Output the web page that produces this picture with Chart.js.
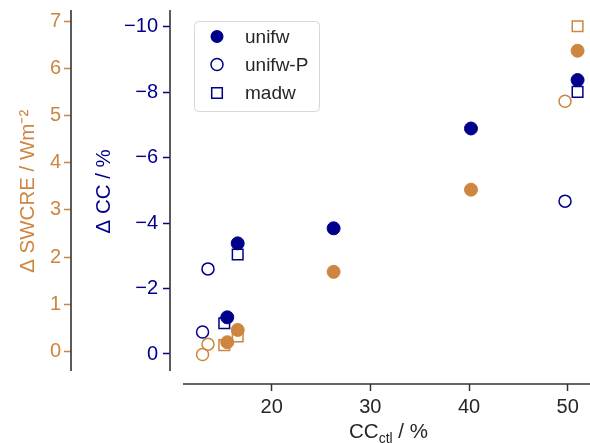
<!DOCTYPE html>
<html>
<head>
<meta charset="utf-8">
<script src="https://cdn.jsdelivr.net/npm/chart.js@4.4.1/dist/chart.umd.min.js"></script>
<style>
    body { margin: 0; background: #fff; }
    #wrap { width: 590px; height: 443px; position: relative; }
</style>
</head>
<body>
<div id="wrap"><canvas id="chart"></canvas></div>
<script>
// series values
const unifwX = [15.5, 16.56, 26.28, 40.2, 51.0];
const unifwCC = [-1.12, -3.38, -3.84, -6.89, -8.37];
const unifwSW = [0.2, 0.46, 1.69, 3.43, 6.37];

const unifwPX = [13.0, 13.55, 49.73];
const unifwPCC = [-0.67, -2.6, -4.67];
const unifwPSW = [-0.06, 0.16, 5.30];

const madwX = [15.2, 16.56, 51.0];
const madwCC = [-0.94, -3.04, -8.01];
const madwSW = [0.14, 0.32, 6.89];

const legendLabels = ['unifw', 'unifw-P', 'madw'];
const xTicks = [20, 30, 40, 50];
const ccTicks = [-10, -8, -6, -4, -2, 0];
const swTicks = [0, 1, 2, 3, 4, 5, 6, 7];

const NAVY = '#00008B';
const ORANGE = '#CD853F';
const SPINE = '#333333';
const TEXT = '#262626';
const FONT = '"Liberation Sans", Arial, sans-serif';

const pts = (xs, ys) => xs.map((x, i) => ({ x: x, y: ys[i] }));

function marker(style, color, filled, order, axis, xs, ys) {
    return {
        data: pts(xs, ys),
        yAxisID: axis,
        order: order,
        pointStyle: style,
        pointRadius: style === 'rect' ? 7.5 : (filled ? 6.5 : 6),
        borderWidth: filled ? 1 : 1.5,
        borderColor: color,
        backgroundColor: filled ? color : 'rgba(0,0,0,0)',
        clip: false
    };
}

const datasets = [
    marker('circle', ORANGE, true, 0, 'ySW', unifwX, unifwSW),
    marker('circle', NAVY, true, 1, 'yCC', unifwX, unifwCC),
    marker('circle', ORANGE, false, 2, 'ySW', unifwPX, unifwPSW),
    marker('circle', NAVY, false, 3, 'yCC', unifwPX, unifwPCC),
    marker('rect', ORANGE, false, 4, 'ySW', madwX, madwSW),
    marker('rect', NAVY, false, 5, 'yCC', madwX, madwCC)
];

const minus = v => String(v).replace('-', '\u2212');

// no extra room for edge labels, the ranges already hold it
function fixBox(s, size) {
    if (s.isHorizontal()) s.height = size; else s.width = size;
    s.paddingTop = 0;
    s.paddingBottom = 0;
    s.paddingLeft = 0;
    s.paddingRight = 0;
}

// detached spines like the matplotlib original
const spines = {
    id: 'spines',
    afterDraw(chart) {
        const { ctx, chartArea } = chart;
        const gap = 13;
        ctx.save();
        ctx.strokeStyle = SPINE;
        ctx.lineWidth = 1.6;
        ctx.beginPath();
        ctx.moveTo(chartArea.left + gap, chartArea.bottom);
        ctx.lineTo(chartArea.right, chartArea.bottom);
        ctx.moveTo(chartArea.left, chartArea.top);
        ctx.lineTo(chartArea.left, chartArea.bottom - gap);
        const sw = chart.scales.ySW.right;
        ctx.moveTo(sw, chartArea.top);
        ctx.lineTo(sw, chartArea.bottom - gap);
        ctx.stroke();

        // x title with subscript
        const x = chart.scales.x;
        const cx = (chartArea.left + gap + chartArea.right) / 2 + 2;
        const big = '20.5px ' + FONT, small = '14px ' + FONT;
        ctx.fillStyle = TEXT;
        ctx.textBaseline = 'alphabetic';
        ctx.font = big;
        const w1 = ctx.measureText('CC').width;
        const w3 = ctx.measureText(' / %').width;
        ctx.font = small;
        const w2 = ctx.measureText('ctl').width;
        let px = cx - (w1 + w2 + w3) / 2;
        const base = x.bottom - 5.5;
        ctx.textAlign = 'left';
        ctx.font = big;
        ctx.fillText('CC', px, base);
        px += w1;
        ctx.font = small;
        ctx.fillText('ctl', px, base + 5.5);
        px += w2;
        ctx.font = big;
        ctx.fillText(' / %', px, base);
        ctx.restore();
    }
};

const boxLegend = {
    id: 'boxLegend',
    afterDraw(chart) {
        const { ctx } = chart;
        const left = 194, top = 21, w = 125, h = 90, r = 4;
        ctx.save();
        ctx.fillStyle = 'rgba(255,255,255,0.8)';
        ctx.strokeStyle = '#d6d6d6';
        ctx.lineWidth = 1;
        ctx.beginPath();
        ctx.roundRect(left + 0.5, top + 0.5, w, h, r);
        ctx.fill();
        ctx.stroke();

        const rows = [36.5, 64.5, 93];
        const styles = ['filled', 'open', 'square'];
        ctx.font = '19px ' + FONT;
        ctx.textBaseline = 'middle';
        ctx.textAlign = 'left';
        legendLabels.forEach((label, i) => {
            const mx = 217, my = rows[i];
            ctx.strokeStyle = NAVY;
            ctx.fillStyle = NAVY;
            ctx.lineWidth = 1.5;
            ctx.beginPath();
            if (styles[i] === 'filled') {
                ctx.arc(mx, my, 6.5, 0, Math.PI * 2);
                ctx.fill();
            } else if (styles[i] === 'open') {
                ctx.arc(mx, my, 6, 0, Math.PI * 2);
                ctx.stroke();
            } else {
                ctx.rect(mx - 5.3, my - 5.3, 10.6, 10.6);
                ctx.stroke();
            }
            ctx.fillStyle = TEXT;
            ctx.fillText(label, 245, my + 1);
        });
        ctx.restore();
    }
};

new Chart(document.getElementById('chart'), {
    type: 'scatter',
    data: { datasets: datasets },
    options: {
        responsive: true,
        maintainAspectRatio: false,
        animation: false,
        events: [],
        layout: { autoPadding: false, padding: { top: 10, left: 0, right: 0, bottom: 0 } },
        plugins: {
            legend: { display: false },
            tooltip: { enabled: false }
        },
        scales: {
            x: {
                type: 'linear',
                position: 'bottom',
                min: 9.7,
                max: 52.26,
                border: { display: false },
                grid: { drawOnChartArea: false, tickLength: 7, color: SPINE, tickWidth: 1.5 },
                ticks: { color: TEXT, font: { size: 20, family: FONT }, padding: 4 },
                afterBuildTicks: s => { s.ticks = xTicks.map(v => ({ value: v })); },
                afterFit: s => fixBox(s, 59)
            },
            yCC: {
                type: 'linear',
                position: 'left',
                weight: 0,
                reverse: true,
                min: -10.51,
                max: 0.917,
                border: { display: false },
                grid: { drawOnChartArea: false, tickLength: 7, color: NAVY, tickWidth: 1.5 },
                ticks: { color: NAVY, font: { size: 20, family: FONT }, padding: 5, callback: v => minus(v) },
                title: { display: true, text: '  \u0394 CC / %', color: NAVY, font: { size: 20.5, family: FONT }, padding: { top: 21, bottom: 0 } },
                afterBuildTicks: s => { s.ticks = ccTicks.map(v => ({ value: v })); },
                afterFit: s => fixBox(s, 99)
            },
            ySW: {
                type: 'linear',
                position: 'left',
                weight: 1,
                min: -0.684,
                max: 7.233,
                border: { display: false },
                grid: { drawOnChartArea: false, tickLength: 7, color: ORANGE, tickWidth: 1.5 },
                ticks: { color: ORANGE, font: { size: 20, family: FONT }, padding: 3 },
                title: { display: true, text: '  \u0394 SWCRE / Wm\u207B\u00B2', color: ORANGE, font: { size: 20.5, family: FONT }, padding: { top: 16, bottom: 0 } },
                afterBuildTicks: s => { s.ticks = swTicks.map(v => ({ value: v })); },
                afterFit: s => fixBox(s, 71)
            }
        }
    },
    plugins: [spines, boxLegend]
});
</script>
</body>
</html>
